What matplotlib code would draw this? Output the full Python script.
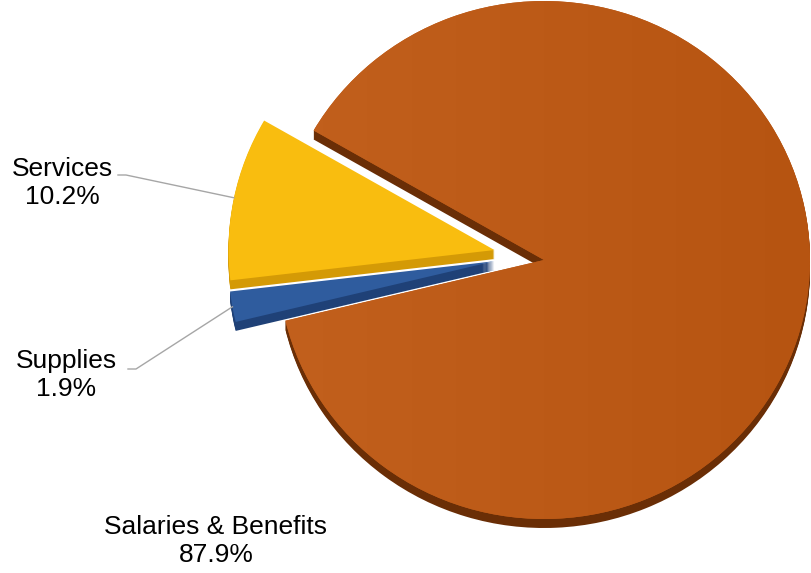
import numpy as np
import matplotlib
matplotlib.use("Agg")
import matplotlib.pyplot as plt
from matplotlib.colors import to_rgb
from matplotlib.transforms import Affine2D

# data
labels = ["Services", "Supplies", "Salaries & Benefits"]
shares = [10.2, 1.9, 87.9]
top_colors = ["#F9BD0F", "#2F5C9E", "#BC5A17"]
side_colors = ["#D49A06", "#1F4177", "#6A2E06"]
explode = [0.19, 0.19, 0.0]

W, H = 811, 573
cx, cy = 544, H - 260      # pie centre in pixel coords (y up)
rx, ry = 266, 259          # slight tilt -> ellipse
tilt = 0.6                 # explode offsets look flatter vertically
lift = 4                   # exploded slices sit a little higher
depth = 9
start = 150

fig = plt.figure(figsize=(W / 100, H / 100), dpi=100)
ax = fig.add_axes([0, 0, 1, 1])

cum = np.cumsum([0] + shares)
mids = np.deg2rad(start + (cum[:-1] + np.array(shares) / 2) * 3.6)
offs = [(e * rx * np.cos(a), e * ry * tilt * np.sin(a) + (lift if e > 0 else 0))
        for e, a in zip(explode, mids)]


def draw(colors, dy, z):
    wedges, _ = ax.pie(shares, colors=colors, startangle=start,
                       radius=1, center=(0, 0),
                       wedgeprops=dict(linewidth=0))
    for w, (ox, oy) in zip(wedges, offs):
        tr = Affine2D().scale(rx, ry).translate(cx + ox, cy + oy - dy) + ax.transData
        w.set_transform(tr)
        w.set_zorder(z)
    return wedges


# side faces first (stacked copies), then the top faces
for d in range(depth, 0, -1):
    draw(side_colors, d, 1)
tops = draw(top_colors, 0, 2)

# soft left-to-right shading on the big slice
c0, c1 = np.array(to_rgb("#C2601D")), np.array(to_rgb("#B65411"))
t = np.linspace(0, 1, 256)[None, :, None]
grad = c0 + (c1 - c0) * t
im = ax.imshow(grad, extent=[cx - rx, cx + rx, cy - ry, cy + ry],
               aspect="auto", zorder=2.1, interpolation="bilinear")
im.set_clip_path(tops[2])

# labels + leader lines
txt_pos = [(62, H - 183), (66, H - 375), (216, H - 541)]
leader_start = [(118, H - 175), (128, H - 369), None]

for i, lab in enumerate(labels):
    ax.text(txt_pos[i][0], txt_pos[i][1], f"{lab}\n{shares[i]:.1f}%",
            ha="center", va="center", multialignment="center",
            fontsize=19, family="Liberation Sans", color="#000000", zorder=5)
    if leader_start[i] is not None:
        a = mids[i]
        px = cx + offs[i][0] + rx * np.cos(a)
        py = cy + offs[i][1] + ry * np.sin(a)
        sx, sy = leader_start[i]
        ax.plot([sx, sx + 8, px], [sy, sy, py], color="#A6A6A6", lw=1.0, zorder=3)

ax.set_xlim(0, W)
ax.set_ylim(0, H)
ax.set_aspect("auto")
ax.axis("off")
fig.savefig("out.png", dpi=100, facecolor="white")
